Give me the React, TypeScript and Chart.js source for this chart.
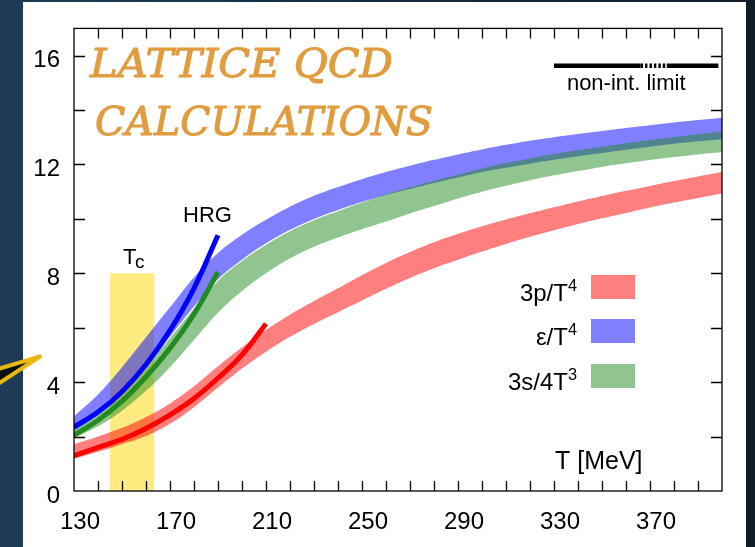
import React, { useEffect, useRef } from "react";
import { Chart, registerables } from "chart.js";

Chart.register(...registerables);

// Temperature grid of the lattice bands (MeV)
const temps = [130, 140, 150, 160, 170, 180, 190, 200, 210, 220, 230, 240, 250, 260, 270, 280, 290, 300, 310, 320, 330, 340, 350, 360, 370, 380, 390, 400];

// 3p/T^4 band
const pressureUpper = [1.72, 2.0, 2.32, 2.72, 3.22, 3.85, 4.58, 5.28, 5.92, 6.48, 6.98, 7.45, 7.93, 8.38, 8.78, 9.14, 9.45, 9.73, 9.98, 10.21, 10.43, 10.64, 10.84, 11.03, 11.21, 11.39, 11.56, 11.72];
const pressureLower = [1.18, 1.44, 1.72, 2.02, 2.47, 3.08, 3.8, 4.5, 5.12, 5.67, 6.14, 6.57, 7.0, 7.43, 7.83, 8.19, 8.5, 8.8, 9.08, 9.34, 9.58, 9.81, 10.02, 10.22, 10.42, 10.6, 10.77, 10.93];

// ε/T^4 band
const energyUpper = [2.75, 3.55, 4.55, 5.65, 6.75, 7.85, 8.75, 9.42, 9.97, 10.45, 10.85, 11.17, 11.46, 11.72, 11.95, 12.17, 12.37, 12.55, 12.72, 12.87, 13.0, 13.12, 13.23, 13.34, 13.44, 13.54, 13.63, 13.72];
const energyLower = [2.2, 2.82, 3.62, 4.58, 5.68, 6.78, 7.78, 8.5, 9.1, 9.6, 10.0, 10.33, 10.62, 10.88, 11.1, 11.32, 11.52, 11.72, 11.88, 12.03, 12.17, 12.3, 12.42, 12.54, 12.65, 12.76, 12.85, 12.93];

// 3s/4T^3 band
const entropyUpper = [2.2, 2.85, 3.68, 4.6, 5.62, 6.7, 7.72, 8.45, 9.05, 9.55, 9.95, 10.28, 10.6, 10.9, 11.15, 11.4, 11.62, 11.85, 12.05, 12.22, 12.38, 12.52, 12.65, 12.78, 12.9, 13.01, 13.11, 13.21];
const entropyLower = [1.95, 2.38, 2.95, 3.68, 4.55, 5.55, 6.55, 7.35, 8.0, 8.55, 8.98, 9.32, 9.62, 9.9, 10.2, 10.47, 10.75, 11.0, 11.22, 11.42, 11.6, 11.76, 11.91, 12.04, 12.16, 12.27, 12.37, 12.45];

// Hadron resonance gas curves
const hrgTemps = [130, 140, 150, 160, 170, 180, 190];
const hrgEnergy = [2.35, 2.9, 3.65, 4.65, 5.9, 7.45, 9.4];
const hrgEntropy = [2.05, 2.6, 3.3, 4.2, 5.25, 6.5, 8.05];
const hrgPressureTemps = [130, 140, 150, 160, 170, 180, 190, 200, 210];
const hrgPressure = [1.3, 1.6, 1.9, 2.3, 2.8, 3.4, 4.15, 5.0, 6.15];

// Crossover region and Stefan-Boltzmann limit
const tcRange = [145, 163.5];
const tcTop = 8;
const nonIntLimit = 15.63;
const nonIntSolidA = [330, 366];
const nonIntDotted = [366, 377];
const nonIntSolidB = [377, 398.5];

// Axis ticks
const xTickLabels = [130, 170, 210, 250, 290, 330, 370];
const yTickLabels = [0, 4, 8, 12, 16];

const legendItems = [
  { base: "3p/T", sup: "4", dataset: 2 },
  { base: "ε/T", sup: "4", dataset: 4 },
  { base: "3s/4T", sup: "3", dataset: 6 },
];

const SANS = "'Liberation Sans', Arial, Helvetica, sans-serif";

const pts = (xs: number[], ys: number[]) => xs.map((x, i) => ({ x, y: ys[i] }));
const flat = (xs: number[], v: number) => xs.map((x) => ({ x, y: v }));

const edge = (data: { x: number; y: number }[], order: number) => ({
  data,
  borderColor: "rgba(0,0,0,0)",
  borderWidth: 0,
  pointRadius: 0,
  fill: false,
  tension: 0.4,
  order,
});

const band = (data: { x: number; y: number }[], target: number, color: string, order: number) => ({
  data,
  borderColor: "rgba(0,0,0,0)",
  borderWidth: 0,
  pointRadius: 0,
  backgroundColor: color,
  fill: { target, above: color, below: color },
  tension: 0.4,
  order,
});

const curve = (data: { x: number; y: number }[], color: string, order: number) => ({
  data,
  borderColor: color,
  borderWidth: 5,
  borderCapStyle: "butt" as const,
  pointRadius: 0,
  fill: false,
  tension: 0.4,
  order,
});

function drawSup(ctx: CanvasRenderingContext2D, base: string, sup: string, right: number, baseline: number, size: number) {
  ctx.font = `${size * 0.68}px ${SANS}`;
  const sw = ctx.measureText(sup).width;
  ctx.font = `${size}px ${SANS}`;
  const bw = ctx.measureText(base).width;
  ctx.textAlign = "left";
  ctx.textBaseline = "alphabetic";
  ctx.fillText(base, right - sw - bw, baseline);
  ctx.font = `${size * 0.68}px ${SANS}`;
  ctx.fillText(sup, right - sw, baseline - size * 0.42);
}

// Title text stretched to a given width, with a thin outline for extra weight
function drawFitted(ctx: CanvasRenderingContext2D, text: string, x: number, baseline: number, width: number) {
  const w = ctx.measureText(text).width;
  ctx.save();
  ctx.translate(x, baseline);
  ctx.scale(width / w, 1);
  ctx.fillText(text, 0, 0);
  ctx.strokeText(text, 0, 0);
  ctx.restore();
}

const decorPlugin = {
  id: "decor",
  beforeDraw(chart: any) {
    const { ctx, width, height } = chart;
    ctx.save();
    const g = ctx.createLinearGradient(0, 0, width, 0);
    g.addColorStop(0, "#1e3b57");
    g.addColorStop(1, "#0f1d2a");
    ctx.fillStyle = g;
    ctx.fillRect(0, 0, width, height);
    ctx.fillStyle = "#ffffff";
    ctx.fillRect(23, 2, 723, height - 2);
    ctx.restore();
  },
  afterDraw(chart: any) {
    const { ctx, chartArea: a, scales } = chart;
    const xs = scales.x;
    const ys = scales.y;
    ctx.save();

    // frame and inward ticks
    ctx.strokeStyle = "#000";
    ctx.lineWidth = 1.3;
    ctx.strokeRect(a.left, a.top, a.right - a.left, a.bottom - a.top);
    ctx.beginPath();
    for (let t = 140; t < 400; t += 10) {
      const px = Math.round(xs.getPixelForValue(t)) + 0.5;
      ctx.moveTo(px, a.bottom);
      ctx.lineTo(px, a.bottom - 10);
      ctx.moveTo(px, a.top);
      ctx.lineTo(px, a.top + 10);
    }
    for (let v = 2; v <= 16; v += 2) {
      const py = Math.round(ys.getPixelForValue(v)) + 0.5;
      ctx.moveTo(a.left, py);
      ctx.lineTo(a.left + 11, py);
      ctx.moveTo(a.right, py);
      ctx.lineTo(a.right - 11, py);
    }
    ctx.stroke();

    // title
    ctx.fillStyle = "#e09c3e";
    ctx.strokeStyle = "#e09c3e";
    ctx.lineWidth = 1.1;
    ctx.lineJoin = "round";
    ctx.font = "italic 40px 'DejaVu Serif', 'Liberation Serif', serif";
    ctx.textAlign = "left";
    ctx.textBaseline = "alphabetic";
    drawFitted(ctx, "LATTICE QCD", 90, 77, 303);
    drawFitted(ctx, "CALCULATIONS", 95, 135, 338);

    // annotations
    ctx.fillStyle = "#000";
    ctx.font = `22px ${SANS}`;
    ctx.textAlign = "center";
    ctx.fillText("non-int. limit", (xs.getPixelForValue(nonIntSolidA[0]) + xs.getPixelForValue(nonIntSolidB[1])) / 2 - 10, ys.getPixelForValue(nonIntLimit) + 24);
    ctx.textAlign = "left";
    ctx.fillText("HRG", 183, 222);
    ctx.fillText("T", 123, 264);
    ctx.font = `19px ${SANS}`;
    ctx.fillText("c", 135, 268);
    ctx.font = `25px ${SANS}`;
    ctx.fillText("T [MeV]", 555, 469);

    // legend
    const rows = [287, 331, 376];
    legendItems.forEach((item, i) => {
      const cy = rows[i];
      ctx.fillStyle = chart.data.datasets[item.dataset].backgroundColor;
      ctx.fillRect(591, cy - 12, 44, 24);
      ctx.fillStyle = "#000";
      drawSup(ctx, item.base, item.sup, 577, cy + 14, 24);
    });

    // pointer on the slide backdrop
    ctx.fillStyle = "#0b0f14";
    ctx.beginPath();
    ctx.moveTo(0, 371);
    ctx.lineTo(40, 357);
    ctx.lineTo(0, 380);
    ctx.closePath();
    ctx.fill();
    ctx.strokeStyle = "#e8b80e";
    ctx.lineWidth = 4;
    ctx.lineCap = "round";
    ctx.beginPath();
    ctx.moveTo(-2, 369);
    ctx.lineTo(40, 356.5);
    ctx.moveTo(-2, 384);
    ctx.lineTo(40, 356.5);
    ctx.stroke();

    ctx.restore();
  },
};

export default function App() {
  const ref = useRef<HTMLCanvasElement>(null);

  useEffect(() => {
    const canvas = ref.current;
    if (!canvas) return;
    const chart = new Chart(canvas, {
      type: "line",
      data: {
        datasets: [
          {
            data: flat(tcRange, tcTop),
            borderColor: "rgba(0,0,0,0)",
            borderWidth: 0,
            pointRadius: 0,
            backgroundColor: "rgba(255,215,0,0.5)",
            fill: "origin",
            order: 30,
          },
          edge(pts(temps, pressureLower), 29),
          band(pts(temps, pressureUpper), 1, "rgba(255,0,0,0.5)", 28),
          edge(pts(temps, energyLower), 27),
          band(pts(temps, energyUpper), 3, "rgba(0,0,255,0.5)", 26),
          edge(pts(temps, entropyLower), 25),
          band(pts(temps, entropyUpper), 5, "rgba(34,139,34,0.5)", 24),
          curve(pts(hrgPressureTemps, hrgPressure), "#ff0000", 5),
          curve(pts(hrgTemps, hrgEntropy), "#228b22", 4),
          curve(pts(hrgTemps, hrgEnergy), "#0000ff", 3),
          { ...curve(flat(nonIntSolidA, nonIntLimit), "#000", 2), borderWidth: 4.5 },
          { ...curve(flat(nonIntDotted, nonIntLimit), "#000", 2), borderWidth: 4.5, borderDash: [2.5, 2] },
          { ...curve(flat(nonIntSolidB, nonIntLimit), "#000", 2), borderWidth: 4.5 },
        ] as any,
      },
      options: {
        animation: false,
        responsive: false,
        devicePixelRatio: 1,
        layout: { padding: { left: 0, top: 23, right: 33, bottom: 0 } },
        plugins: {
          legend: { display: false },
          tooltip: { enabled: false },
        },
        elements: { point: { radius: 0 } },
        scales: {
          x: {
            type: "linear",
            min: 130,
            max: 400,
            grid: { display: false, drawTicks: false },
            border: { display: false },
            afterBuildTicks: (s: any) => {
              s.ticks = xTickLabels.map((v) => ({ value: v }));
            },
            afterFit: (s: any) => {
              s.height = 56;
            },
            ticks: {
              color: "#000",
              font: { family: SANS, size: 24 },
              padding: 17,
              labelOffset: 6,
              maxRotation: 0,
              autoSkip: false,
            },
          },
          y: {
            type: "linear",
            min: 0,
            max: 17,
            grid: { display: false, drawTicks: false },
            border: { display: false },
            afterBuildTicks: (s: any) => {
              s.ticks = yTickLabels.map((v) => ({ value: v }));
            },
            afterFit: (s: any) => {
              s.width = 74;
            },
            ticks: {
              color: "#000",
              font: { family: SANS, size: 24 },
              padding: 14,
              labelOffset: 5,
              autoSkip: false,
            },
          },
        },
      } as any,
      plugins: [decorPlugin],
    });
    return () => chart.destroy();
  }, []);

  return (
    <div style={{ position: "fixed", left: 0, top: 0, width: 755, height: 547 }}>
      <canvas ref={ref} width={755} height={547} style={{ display: "block" }} />
    </div>
  );
}
